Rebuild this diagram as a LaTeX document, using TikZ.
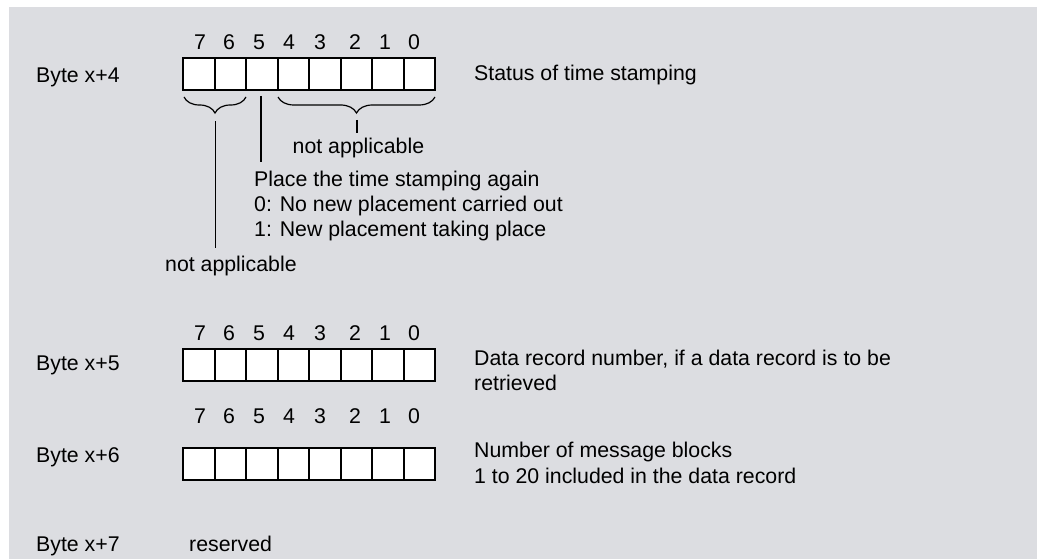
\documentclass[tikz,border=0pt]{standalone}
\usepackage{fontspec}
\setmainfont{Liberation Sans}
\usetikzlibrary{decorations.pathreplacing}
\definecolor{bgc}{RGB}{220,221,225}
\begin{document}
\begin{tikzpicture}[x=1pt,y=-1pt,
  every node/.style={font=\fontsize{21.3}{25}\selectfont, inner sep=0pt},
  cell/.style={draw, line width=2pt, fill=white, minimum width=31.5pt, minimum height=32pt, inner sep=0pt},
  txt/.style={anchor=base west},
  bitnum/.style={anchor=base},
  conn/.style={line width=1.5pt},
  brc/.style={decorate, decoration={brace, mirror, amplitude=16pt}, line width=1.2pt}]
\useasboundingbox (0,0) rectangle (1037,559);
\fill[bgc] (9,7) rectangle (1037,559);
% cells
\foreach \r/\yt in {4/58,5/349,6/448}{
  \foreach \i in {0,...,7}{
    \node[cell] (c\r-\i) at ({183+31.5*\i+15.75},{\yt+16}) {};
  }
}
% bit numbers
\foreach \r/\yb in {4/49.3,5/340.7,6/423.3}{
  \foreach \x/\b [count=\k] in {200/7,229/6,259/5,289/4,320/3,355/2,385/1,414/0}{
    \node[bitnum] (n\r-\k) at (\x,\yb) {\b};
  }
}
% labels
\node[txt] (l4) at (36,83) {Byte x+4};
\node[txt] (l5) at (36,370) {Byte x+5};
\node[txt] (l6) at (36,462.3) {Byte x+6};
\node[txt] (l7) at (36,551.7) {Byte x+7};
\node[txt] (res) at (189,551.7) {reserved};
\node[txt] (d4) at (474,80.7) {Status of time stamping};
\node[txt] (d5a) at (474,365) {Data record number, if a data record is to be};
\node[txt] (d5b) at (474,390) {retrieved};
\node[txt] (d6a) at (474,457.3) {Number of message blocks};
\node[txt] (d6b) at (474,483.3) {1 to 20 included in the data record};
\node[txt] (na1) at (292.5,153.3) {not applicable};
\node[txt] (p1) at (254,186) {Place the time stamping again};
\node[txt] (p2) at (254,211.7) {0: No new placement carried out};
\node[txt] (p3) at (254,236.7) {1: New placement taking place};
\node[txt] (na2) at (165,271) {not applicable};
% braces
\coordinate (bl1) at (184,97);
\coordinate (bl2) at (246,97);
\coordinate (br1) at (278,97);
\coordinate (br2) at (435,97);
\draw[brc] (bl1) -- (bl2);
\draw[brc] (br1) -- (br2);
% connector lines
\coordinate (t1a) at (357,120);
\coordinate (t1b) at (357,133);
\draw[conn] (t1a) -- (t1b);
\coordinate (t5a) at (261,96);
\coordinate (t5b) at (261,162);
\draw[conn] (t5a) -- (t5b);
\coordinate (t7a) at (215.5,121.5);
\coordinate (t7b) at (215.5,248);
\draw[conn] (t7a) -- (t7b);
\end{tikzpicture}
\end{document}
